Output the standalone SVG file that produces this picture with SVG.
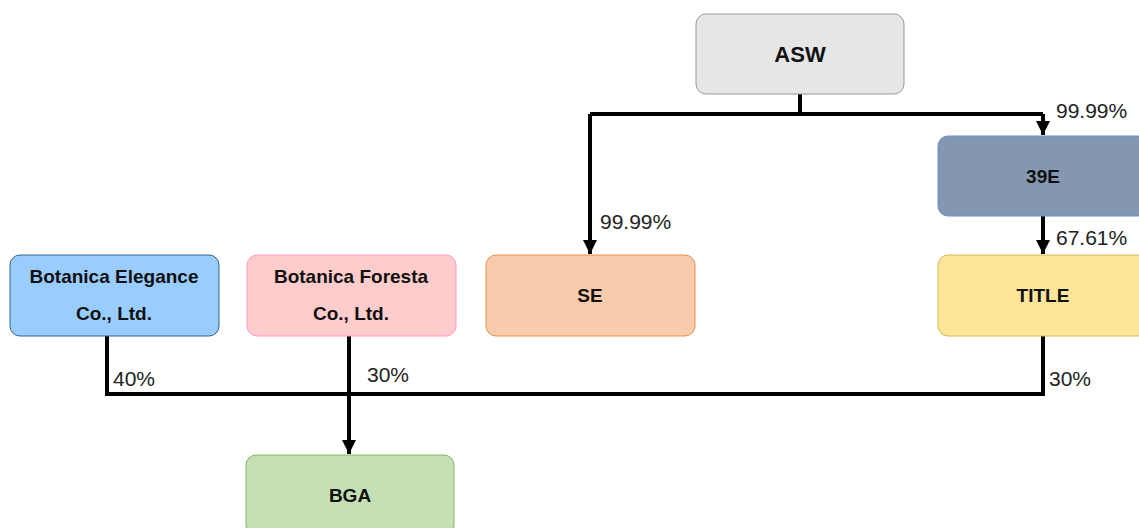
<svg xmlns="http://www.w3.org/2000/svg" width="1139" height="528" viewBox="0 0 1139 528">
<style>
.n{stroke-width:1}
.t{font-family:"Liberation Sans",Arial,sans-serif;font-weight:bold;font-size:19px;fill:#111;text-anchor:middle}
.l{font-family:"Liberation Sans",Arial,sans-serif;font-size:21px;fill:#222}
.c{fill:none;stroke:#000;stroke-width:4}
</style>
<defs>
<marker id="a" viewBox="0 0 10 10" refX="10" refY="5" markerWidth="3.5" markerHeight="3.5" markerUnits="strokeWidth" orient="auto">
<path d="M0,0 L10,5 L0,10 Z" fill="#000"/>
</marker>
</defs>
<rect width="1139" height="528" fill="#fff"/>
<g id="connectors">
<path class="c" d="M800,94 V114"/>
<path class="c" d="M590,114 H1043"/>
<path class="c" d="M590,114 V254" marker-end="url(#a)"/>
<path class="c" d="M1043,114 V135" marker-end="url(#a)"/>
<path class="c" d="M1043,216 V254" marker-end="url(#a)"/>
<path class="c" d="M107,336 V394 H1043 V336"/>
<path class="c" d="M349,336 V454" marker-end="url(#a)"/>
</g>
<g id="labels">
<text class="l" x="1056" y="118">99.99%</text>
<text class="l" x="600" y="229">99.99%</text>
<text class="l" x="1056" y="245">67.61%</text>
<text class="l" x="113" y="386">40%</text>
<text class="l" x="367" y="382">30%</text>
<text class="l" x="1049" y="386">30%</text>
</g>
<g id="ASW">
<rect class="n" x="696" y="14" width="208" height="80" rx="10" fill="#e6e6e6" stroke="#999"/>
<text class="t" x="800" y="62" style="font-size:22px">ASW</text>
</g>
<g id="E39">
<rect class="n" x="938" y="136" width="210" height="80" rx="10" fill="#8497b0" stroke="#6c8ebf"/>
<text class="t" x="1043" y="183">39E</text>
</g>
<g id="TITLE">
<rect class="n" x="938" y="255" width="210" height="81" rx="10" fill="#ffe599" stroke="#d6b656"/>
<text class="t" x="1043" y="302">TITLE</text>
</g>
<g id="SE">
<rect class="n" x="486" y="255" width="209" height="81" rx="10" fill="#f8cbad" stroke="#e8904a"/>
<text class="t" x="590" y="302">SE</text>
</g>
<g id="BotanicaElegance">
<rect class="n" x="10" y="255" width="209" height="81" rx="10" fill="#99ccff" stroke="#36648b"/>
<text class="t" x="114" y="283">Botanica Elegance</text>
<text class="t" x="114" y="320">Co., Ltd.</text>
</g>
<g id="BotanicaForesta">
<rect class="n" x="247" y="255" width="209" height="81" rx="10" fill="#ffcccc" stroke="#ff99cc"/>
<text class="t" x="351" y="283">Botanica Foresta</text>
<text class="t" x="351" y="320">Co., Ltd.</text>
</g>
<g id="BGA">
<rect class="n" x="246" y="455" width="208" height="80" rx="10" fill="#c5e0b4" stroke="#82b366"/>
<text class="t" x="350" y="502">BGA</text>
</g>
</svg>
